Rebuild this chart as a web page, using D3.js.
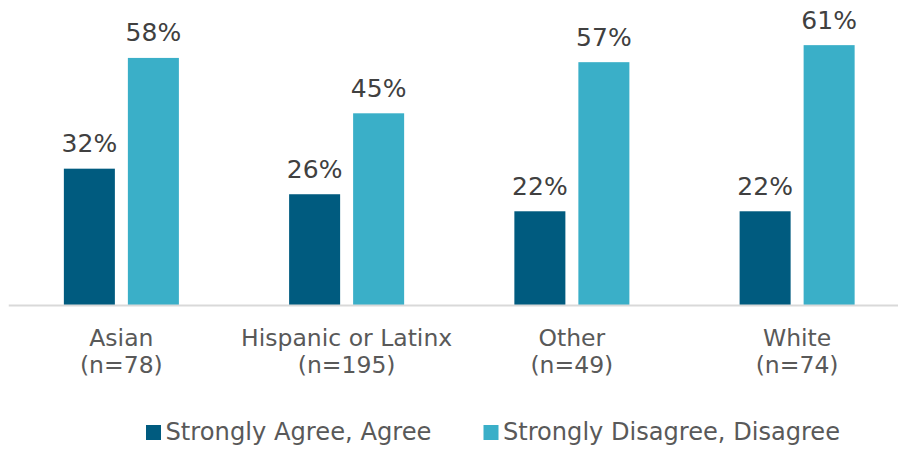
<!DOCTYPE html>
<html>
<head>
<meta charset="utf-8">
<script src="https://cdn.jsdelivr.net/npm/d3@7/dist/d3.min.js"></script>
<style>
  html, body { margin: 0; padding: 0; background: #fff; }
  svg { display: block; }
  text { font-family: "DejaVu Sans", Verdana, sans-serif; fill: #595959; }
</style>
</head>
<body>
<svg id="chart" width="898" height="449"></svg>
<script>
const categories = ["Asian", "Hispanic or Latinx", "Other", "White"];
const sampleSizes = ["(n=78)", "(n=195)", "(n=49)", "(n=74)"];
const seriesNames = ["Strongly Agree, Agree", "Strongly Disagree, Disagree"];
const agree = [32, 26, 22, 22];
const disagree = [58, 45, 57, 61];
const colors = ["#005B7F", "#3AAFC8"];

const svg = d3.select("#chart");
const width = 898, height = 449;
const plotLeft = 8.75, plotRight = 909.75, baseY = 305;

const x0 = d3.scaleBand().domain(categories).range([plotLeft, plotRight]).paddingInner(0).paddingOuter(0);
const x1 = d3.scaleBand().domain([0, 1]).range([0, x0.bandwidth()]).paddingInner(0.203).paddingOuter(0.861);
const y = d3.scaleLinear().domain([0, 70]).range([baseY, baseY - 4.26 * 70]);

const series = [agree, disagree];
const g = svg.append("g");

series.forEach((vals, si) => {
  g.selectAll(".bar" + si)
    .data(vals)
    .enter().append("rect")
    .attr("x", (d, i) => x0(categories[i]) + x1(si))
    .attr("width", x1.bandwidth())
    .attr("y", d => y(d))
    .attr("height", d => y(0) - y(d))
    .attr("fill", colors[si]);
  g.selectAll(".lab" + si)
    .data(vals)
    .enter().append("text")
    .attr("x", (d, i) => x0(categories[i]) + x1(si) + x1.bandwidth() / 2)
    .attr("y", d => y(d) - 16.5)
    .attr("text-anchor", "middle")
    .attr("font-size", 25)
    .style("fill", "#404040")
    .text(d => d + "%");
});

// axis line
g.append("line")
  .attr("x1", plotLeft).attr("x2", width)
  .attr("y1", baseY + 0.5).attr("y2", baseY + 0.5)
  .attr("stroke", "#d9d9d9").attr("stroke-width", 2);

// category labels
categories.forEach((c, i) => {
  const cx = x0(c) + x0.bandwidth() / 2;
  const t = g.append("text")
    .attr("text-anchor", "middle")
    .attr("font-size", 23.5)
    .attr("x", cx).attr("y", 346);
  t.append("tspan").attr("x", cx).attr("y", 346).text(c);
  t.append("tspan").attr("x", cx).attr("y", 373).text(sampleSizes[i]);
});

// legend
const legendX = [146, 483.5];
const legendW = [266, 337];
seriesNames.forEach((n, i) => {
  g.append("rect").attr("x", legendX[i]).attr("y", 425).attr("width", 15).attr("height", 15).attr("fill", colors[i]);
  g.append("text").attr("x", legendX[i] + 19.5).attr("y", 440).attr("font-size", 24)
    .attr("textLength", legendW[i]).attr("lengthAdjust", "spacingAndGlyphs")
    .text(n);
});
</script>
</body>
</html>
